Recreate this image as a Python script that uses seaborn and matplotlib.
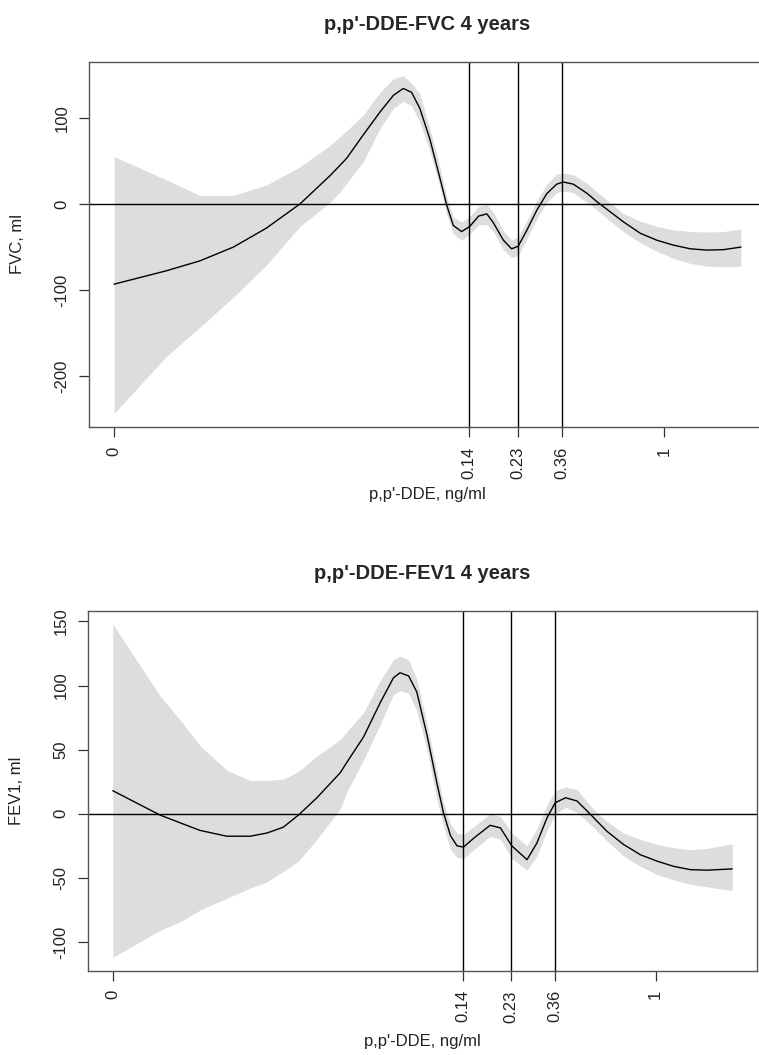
import numpy as np
import pandas as pd
import matplotlib
matplotlib.use("Agg")
import matplotlib.pyplot as plt
import seaborn as sns

# x axis is a log(DDE + c) scale, drawn in relative units (0 = 0 ng/ml, 1 = 1 ng/ml)
C_OFFSET = 0.0042
tick_values = [0, 0.14, 0.23, 0.36, 1]
tick_labels = ["0", "0.14", "0.23", "0.36", "1"]
cut_values = [0.14, 0.23, 0.36]

# FVC panel
fvc_x = [0.000, 0.095, 0.156, 0.217, 0.277, 0.338, 0.393, 0.411, 0.423, 0.453,
         0.484, 0.508, 0.526, 0.541, 0.556, 0.574, 0.593, 0.605, 0.617, 0.632,
         0.647, 0.663, 0.678, 0.690, 0.708, 0.723, 0.735, 0.751, 0.769, 0.787,
         0.805, 0.817, 0.835, 0.860, 0.878, 0.926, 0.957, 0.987, 1.017, 1.048,
         1.078, 1.108, 1.140]
fvc_est = [-93, -77.5, -66, -50, -28, 0, 33, 45, 53, 80,
           107, 126, 134, 129.5, 111, 76, 29, -1.5, -25, -32,
           -26, -14, -11.5, -22, -42, -52, -49, -30, -7, 12,
           23, 25.5, 23, 12.4, 2.7, -20.6, -34, -42, -47.7, -52,
           -53.5, -53, -50]
fvc_hi = [55, 28, 10, 10, 22, 43, 68, 78, 85, 103,
          130, 145, 149, 140, 128, 88, 42, 8, -15, -21,
          -14, -3, -1, -10, -31, -42, -38, -19, 4, 23,
          35, 36, 34, 24, 14, -11, -20, -26, -30, -32,
          -32.5, -32, -29]
fvc_lo = [-243, -177, -143, -108, -71, -26, 2, 14, 24, 49,
          88, 111, 119, 114, 95, 62, 18, -12, -35, -42,
          -35, -24, -24, -32, -53, -62, -60, -40, -17, 2,
          13, 15, 13, 2, -7, -32, -45, -55, -63, -69,
          -72, -73, -72]

# FEV1 panel
fev_x = [0.000, 0.087, 0.130, 0.161, 0.210, 0.253, 0.284, 0.314, 0.342, 0.376,
         0.419, 0.431, 0.462, 0.493, 0.517, 0.529, 0.545, 0.560, 0.579, 0.597,
         0.609, 0.622, 0.634, 0.646, 0.665, 0.695, 0.714, 0.735, 0.763, 0.781,
         0.800, 0.815, 0.834, 0.855, 0.880, 0.910, 0.941, 0.972, 1.003, 1.033,
         1.064, 1.095, 1.141]
fev_est = [18, -1, -8, -13, -17.5, -17.5, -15, -10.5, -1, 12.5,
           32, 40, 60, 87, 106, 110, 107.5, 95, 61, 24,
           1, -17, -25, -26, -19, -9, -11, -25, -35.8, -23,
           -3, 8.6, 12.5, 10, -0.5, -13.6, -24, -32, -37, -41,
           -43.6, -44, -43]
fev_hi = [148, 92, 70, 53, 34, 26, 26, 27, 33, 45,
          58, 64, 79, 104, 120, 123, 120, 105, 70, 33,
          9, -8, -15, -16, -10, 0, -2, -15, -25, -12,
          7, 18, 21, 19, 6, -6, -15, -20, -24, -26.5,
          -28, -27, -23.5]
fev_lo = [-112, -91, -83, -75, -66, -58, -53, -45, -37, -20,
          4, 17, 42, 70, 93, 96, 94, 80, 50, 11,
          -9, -28, -34, -35, -28, -17.5, -20, -35, -44, -33,
          -13, 0, 5, 1, -8.5, -21, -33, -41, -47.5, -51.5,
          -55, -57, -60]

panels = [
    dict(title="p,p'-DDE-FVC 4 years", ylab="FVC, ml", x=fvc_x, est=fvc_est,
         hi=fvc_hi, lo=fvc_lo, yticks=[-200, -100, 0, 100],
         pos=[89, 62, 766, 427], xlab_off=60),
    dict(title="p,p'-DDE-FEV1 4 years", ylab="FEV1, ml", x=fev_x, est=fev_est,
         hi=fev_hi, lo=fev_lo, yticks=[-100, -50, 0, 50, 100, 150],
         pos=[88, 610.7, 757, 970.7], xlab_off=63),
]


def to_axis(v):
    return np.log((np.asarray(v) + C_OFFSET) / C_OFFSET) / np.log((1 + C_OFFSET) / C_OFFSET)


sns.set_style("white")
plt.rcParams["font.family"] = ["Liberation Sans", "DejaVu Sans"]

W, H = 759, 1055
fig = plt.figure(figsize=(W / 100, H / 100), dpi=100)

for p in panels:
    l, t, r, b = p["pos"]
    ax = fig.add_axes([l / W, 1 - b / H, (r - l) / W, (b - t) / H])
    df = pd.DataFrame({"x": p["x"], "est": p["est"], "hi": p["hi"], "lo": p["lo"]})

    ax.fill_between(df["x"], df["lo"], df["hi"], color="#DDDDDD", lw=0, zorder=1)
    sns.lineplot(data=df, x="x", y="est", color="black", lw=1.0, ax=ax, zorder=3)

    for c in cut_values:
        ax.axvline(to_axis(c), color="black", lw=1.0, zorder=2)
    ax.axhline(0, color="black", lw=1.0, zorder=2)

    # R style 4% padding
    xr = df["x"].max() - df["x"].min()
    ax.set_xlim(df["x"].min() - 0.04 * xr, df["x"].max() + 0.04 * xr)
    ymin, ymax = df["lo"].min(), df["hi"].max()
    yr = ymax - ymin
    ax.set_ylim(ymin - 0.04 * yr, ymax + 0.04 * yr)

    ax.set_xticks(to_axis(tick_values))
    ax.set_xticklabels(tick_labels, rotation=90)
    ax.set_yticks(p["yticks"])
    ax.set_yticklabels([str(v) for v in p["yticks"]], rotation=90, va="center")
    ax.tick_params(axis="both", direction="out", length=7, width=0.9,
                   color="#333333", labelsize=12, labelcolor="#222222", pad=7,
                   bottom=True, left=True)

    for s in ax.spines.values():
        s.set_color("#555555")
        s.set_linewidth(1.0)

    ax.set_title(p["title"], fontsize=14.5, fontweight="bold", pad=23)
    ax.set_xlabel("p,p'-DDE, ng/ml", fontsize=12, color="#222222")
    ax.set_ylabel(p["ylab"], fontsize=12, color="#222222")
    ax.xaxis.set_label_coords(0.5, -p["xlab_off"] / (b - t), transform=ax.transAxes)
    ax.yaxis.set_label_coords(-64 / (r - l), 0.5, transform=ax.transAxes)

fig.savefig("out.png", dpi=100)
plt.close(fig)
